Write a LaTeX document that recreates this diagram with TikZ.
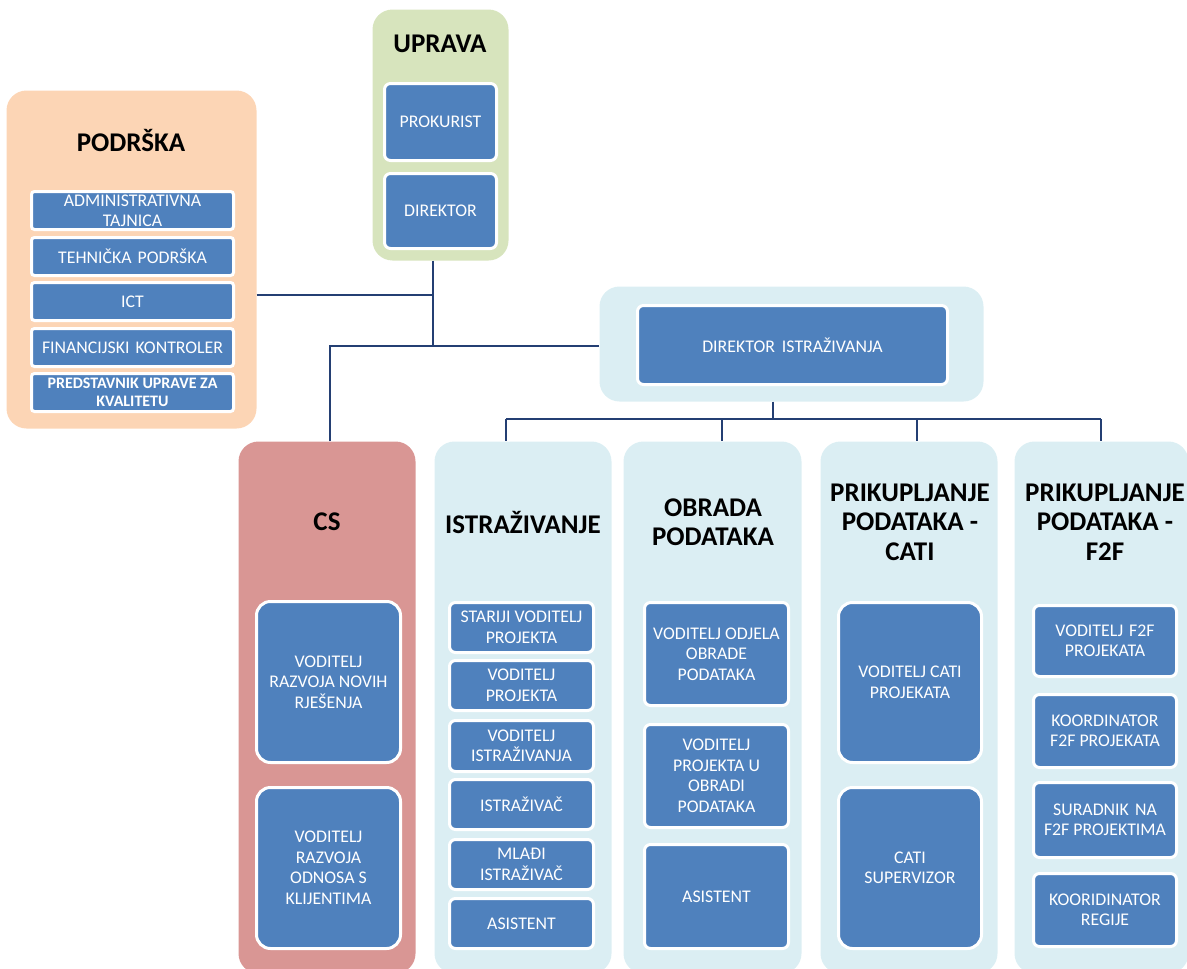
\documentclass[tikz,border=0pt]{standalone}
\usepackage{fontspec}
\setmainfont{Carlito}
\definecolor{peach}{RGB}{252,213,181}
\definecolor{sage}{RGB}{215,228,189}
\definecolor{pale}{RGB}{219,238,243}
\definecolor{rose}{RGB}{217,150,148}
\definecolor{boxblue}{RGB}{79,129,189}
\definecolor{linec}{RGB}{36,63,115}
\newcommand\bx[7]{\node[#1, minimum width={(#5-#3-3)*1pt}, minimum height={(#6-#4-3)*1pt}] (#2) at ({(#3+#5)/2},{(#4+#6)/2}) {#7};}
\begin{document}
\begin{tikzpicture}[x=1pt,y=-1pt,
  cont/.style={fill=#1, draw=none, rounded corners=20pt, inner sep=0pt},
  sub/.style={fill=boxblue, draw=white, line width=3pt, rounded corners=6pt, text=white, align=center, inner sep=0pt, font=\fontsize{17.8}{20.5}\selectfont},
  subbig/.style={sub, rounded corners=14pt},
  subsm/.style={sub, rounded corners=3pt, font=\fontsize{17.8}{20}\selectfont},
  subbold/.style={subsm, font=\fontsize{16}{17.5}\selectfont\bfseries},
  hdr/.style={align=center, inner sep=0pt, font=\fontsize{27}{29.5}\selectfont\bfseries, text=black},
  conn/.style={draw=linec, line width=1.6pt}]
\useasboundingbox (0,0) rectangle (1187,969);

% containers
\bx{cont=peach}{pod}{5}{89}{258}{430}{}
\bx{cont=sage}{upr}{371}{8}{510}{262}{}
\bx{cont=pale}{dirc}{598}{285}{985}{403}{}
\bx{cont=rose}{cs}{237}{440}{417}{975}{}
\bx{cont=pale}{ist}{433}{440}{613}{975}{}
\bx{cont=pale}{obr}{622}{440}{803}{975}{}
\bx{cont=pale}{cati}{819}{440}{999}{975}{}
\bx{cont=pale}{ftf}{1013}{440}{1190}{975}{}

% headers
\node[hdr] (hpod) at (131,140) {PODRŠKA};
\node[hdr] (hupr) at (440,44) {UPRAVA};
\node[hdr] (hcs) at (327,522) {CS};
\node[hdr] (hist) at (523,522) {ISTRAŽIVANJE};
\node[hdr] (hobr) at (713,522) {OBRADA\\PODATAKA};
\node[hdr] (hcati) at (910,522) {PRIKUPLJANJE\\PODATAKA -\\CATI};
\node[hdr] (hftf) at (1105,522) {PRIKUPLJANJE\\PODATAKA -\\F2F};

% PODRSKA
\bx{subsm}{p1}{30}{190}{235}{231}{ADMINISTRATIVNA\\TAJNICA}
\bx{subsm}{p2}{30}{236}{235}{277}{TEHNIČKA\hspace{2pt} PODRŠKA}
\bx{subsm}{p3}{30}{281}{235}{322}{ICT}
\bx{subsm}{p4}{30}{327}{235}{368}{FINANCIJSKI\hspace{2pt} KONTROLER}
\bx{subbold}{p5}{30}{372}{235}{413}{PREDSTAVNIK UPRAVE ZA\\KVALITETU}

% UPRAVA
\bx{sub}{u1}{383}{82}{498}{162}{PROKURIST}
\bx{sub}{u2}{383}{172}{498}{250}{DIREKTOR}

% DIREKTOR ISTRAZIVANJA
\bx{sub}{di}{636}{304}{949}{386}{DIREKTOR\hspace{3pt} ISTRAŽIVANJA}

% CS
\bx{subbig}{c1}{255}{600}{402}{764}{VODITELJ\\RAZVOJA NOVIH\\RJEŠENJA}
\bx{subbig}{c2}{255}{786}{402}{950}{VODITELJ\\RAZVOJA\\ODNOSA S\\KLIJENTIMA}

% ISTRAZIVANJE
\bx{sub}{i1}{448}{601}{595}{654}{STARIJI VODITELJ\\PROJEKTA}
\bx{sub}{i2}{448}{659}{595}{712}{VODITELJ\\PROJEKTA}
\bx{sub}{i3}{448}{719}{595}{773}{VODITELJ\\ISTRAŽIVANJA}
\bx{sub}{i4}{448}{778}{595}{831}{ISTRAŽIVAČ}
\bx{sub}{i5}{448}{838}{595}{891}{MLAĐI\\ISTRAŽIVAČ}
\bx{sub}{i6}{448}{897}{595}{950}{ASISTENT}

% OBRADA
\bx{sub}{o1}{643}{601}{790}{707}{VODITELJ ODJELA\\OBRADE\\PODATAKA}
\bx{sub}{o2}{643}{723}{790}{829}{VODITELJ\\PROJEKTA U\\OBRADI\\PODATAKA}
\bx{sub}{o3}{643}{843}{790}{950}{ASISTENT}

% CATI
\bx{subbig}{k1}{837}{601}{983}{764}{VODITELJ CATI\\PROJEKATA}
\bx{subbig}{k2}{837}{786}{983}{950}{CATI\\SUPERVIZOR}

% F2F
\bx{sub}{f1}{1032}{604}{1178}{678}{VODITELJ\hspace{2pt} F2F\\PROJEKATA}
\bx{sub}{f2}{1032}{693}{1178}{769}{KOORDINATOR\\F2F PROJEKATA}
\bx{sub}{f3}{1032}{781}{1178}{859}{SURADNIK\hspace{2pt} NA\\F2F PROJEKTIMA}
\bx{sub}{f4}{1032}{872}{1178}{948}{KOORIDINATOR\\REGIJE}

% junctions
\coordinate (j1) at (433,295);
\coordinate (j2) at (433,346);
\coordinate (j3) at (330,346);
\coordinate (j4) at (773,419);
\coordinate (ja) at (506,419);
\coordinate (jb) at (722,419);
\coordinate (jc) at (917,419);
\coordinate (jd) at (1101,419);

\draw[conn] (pod.east |- j1) -- (j1);
\draw[conn] (j1 |- upr.south) -- (j2);
\draw[conn] (j3 |- cs.north) -- (j3) -- (dirc.west |- j3);
\draw[conn] (j4 |- dirc.south) -- (j4);
\draw[conn] (ja) -- (jd);
\draw[conn] (ja) -- (ja |- ist.north);
\draw[conn] (jb) -- (jb |- obr.north);
\draw[conn] (jc) -- (jc |- cati.north);
\draw[conn] (jd) -- (jd |- ftf.north);
\end{tikzpicture}
\end{document}
